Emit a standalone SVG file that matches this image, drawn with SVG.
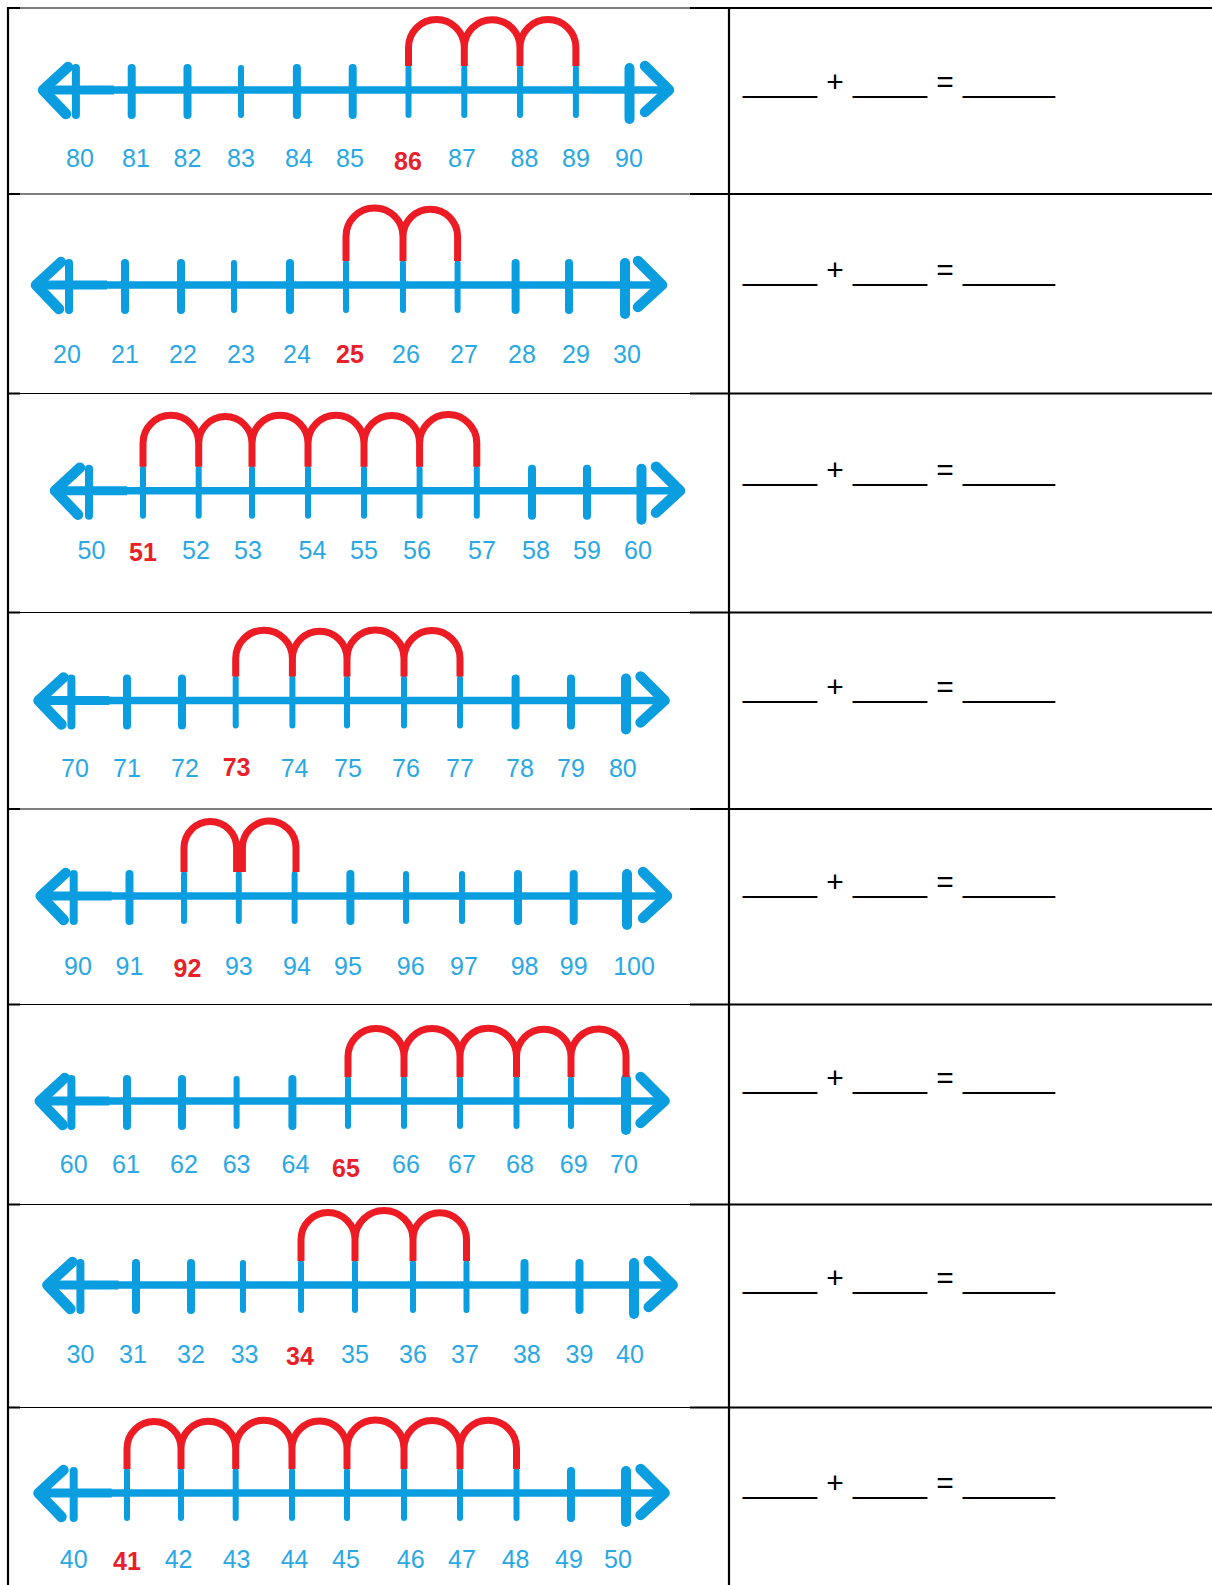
<svg xmlns="http://www.w3.org/2000/svg" width="1212" height="1585" viewBox="0 0 1212 1585">
<style>
.tb{stroke:#000;stroke-width:2.2;fill:none}
.tt{stroke:#000;stroke-width:1.2;fill:none}
.ax{stroke:#0a9de0;fill:none;stroke-linecap:round;stroke-linejoin:round}
.mn{stroke-width:7.5;stroke-linecap:butt}
.ms{stroke-width:9;stroke-linecap:butt}
.tk{stroke-width:8}
.tn{stroke-width:6}
.tl{stroke-width:10}
.hd{stroke-width:10.5}
.arc{stroke:#ed1c24;stroke-width:7;fill:none}
.lb{font-family:"Liberation Sans",Arial,sans-serif;font-size:25px;fill:#2aa8e3;text-anchor:middle}
.lr{font-weight:bold;fill:#e8202a}
.eq{font-family:"Liberation Sans",Arial,sans-serif;font-size:30px;fill:#000}
.op{text-anchor:middle}
</style>
<rect width="1212" height="1585" fill="#fff"/>
<g id="table">
<path class="tb" d="M8,7V1585M729,7V1585"/>
<path class="tb" d="M7,8H20M690,8H1212M7,194H20M690,194H1212M7,393.5H20M690,393.5H1212M7,612.5H20M690,612.5H1212M7,809H20M690,809H1212M7,1004.5H20M690,1004.5H1212M7,1204.5H20M690,1204.5H1212M7,1407.5H20M690,1407.5H1212"/>
<path class="tt" d="M20,8H690M20,194H690M20,393.5H690M20,612.5H690M20,809H690M20,1004.5H690M20,1204.5H690M20,1407.5H690"/>
</g>

<g id="nl1" transform="translate(0,90)">
<path class="ax mn" d="M43,0H669"/>
<path class="ax ms" d="M43,0H114"/>
<path class="ax hd" d="M68,-23L43,0L66,24M645,-24L669,0L645,22"/>
<path class="ax tk" d="M75.9,-22V25M131.7,-22V25M187.5,-22V25M296.9,-22V25M352.7,-22V25"/>
<path class="ax tn" d="M241,-22V25M408.5,-22V25M464.3,-22V25M520,-22V25M575.9,-22V25"/>
<path class="ax tl" d="M629.5,-22V29"/>
<path class="arc" d="M408.5,-24V-42.5A20,20 0 0 1 464.3,-42.5V-24M464.3,-24V-42.5A20,20 0 0 1 520,-42.5V-24M520,-24V-42.5A20,20 0 0 1 575.9,-42.5V-24"/>
<text class="lb" y="77"><tspan x="80">80</tspan><tspan x="136">81</tspan><tspan x="187.5">82</tspan><tspan x="241">83</tspan><tspan x="299">84</tspan><tspan x="350">85</tspan><tspan x="462">87</tspan><tspan x="524.5">88</tspan><tspan x="576">89</tspan><tspan x="629">90</tspan></text>
<text class="lb lr" x="408" y="80">86</text>
</g>

<g id="nl2" transform="translate(0,285)">
<path class="ax mn" d="M36,0H662"/>
<path class="ax ms" d="M36,0H107"/>
<path class="ax hd" d="M61,-23L36,0L59,24M638,-24L662,0L638,22"/>
<path class="ax tk" d="M69,-22V25M125,-22V25M181,-22V25M290,-22V25M515.6,-22V25M569,-22V25"/>
<path class="ax tn" d="M234,-22V25M346,-22V25M403,-22V25M457.6,-22V25"/>
<path class="ax tl" d="M625,-22V29"/>
<path class="arc" d="M346,-24V-48.5A20,20 0 0 1 403,-48.5V-24M403,-24V-48.5A20,20 0 0 1 457.6,-48.5V-24"/>
<text class="lb" y="78"><tspan x="67">20</tspan><tspan x="125">21</tspan><tspan x="183">22</tspan><tspan x="241">23</tspan><tspan x="297">24</tspan><tspan x="406">26</tspan><tspan x="464">27</tspan><tspan x="522">28</tspan><tspan x="576">29</tspan><tspan x="627">30</tspan></text>
<text class="lb lr" x="350" y="78">25</text>
</g>

<g id="nl3" transform="translate(0,490.7)">
<path class="ax mn" d="M55,0H680"/>
<path class="ax ms" d="M55,0H127"/>
<path class="ax hd" d="M80,-23L55,0L78,24M656,-24L680,0L656,22"/>
<path class="ax tk" d="M89,-22V25M532,-22V25M587,-22V25"/>
<path class="ax tn" d="M143,-22V25M198.7,-22V25M252,-22V25M308,-22V25M364,-22V25M419.6,-22V25M476.8,-22V25"/>
<path class="ax tl" d="M641.5,-22V29"/>
<path class="arc" d="M143,-24V-47.5A20,20 0 0 1 198.7,-47.5V-24M198.7,-24V-47.5A20,20 0 0 1 252,-47.5V-24M252,-24V-47.5A20,20 0 0 1 308,-47.5V-24M308,-24V-47.5A20,20 0 0 1 364,-47.5V-24M364,-24V-47.5A20,20 0 0 1 419.6,-47.5V-24M419.6,-24V-47.5A20,20 0 0 1 476.8,-47.5V-24"/>
<text class="lb" y="68"><tspan x="91.5">50</tspan><tspan x="196">52</tspan><tspan x="248">53</tspan><tspan x="312.5">54</tspan><tspan x="364">55</tspan><tspan x="417">56</tspan><tspan x="482">57</tspan><tspan x="536">58</tspan><tspan x="587">59</tspan><tspan x="638">60</tspan></text>
<text class="lb lr" x="143" y="70">51</text>
</g>

<g id="nl4" transform="translate(0,700.5)">
<path class="ax mn" d="M38.5,0H664.6"/>
<path class="ax ms" d="M38.5,0H109.4"/>
<path class="ax hd" d="M63.5,-23L38.5,0L61.5,24M640.6,-24L664.6,0L640.6,22"/>
<path class="ax tk" d="M71.4,-22V25M127,-22V25M182,-22V25M515.6,-22V25M571,-22V25"/>
<path class="ax tn" d="M235.7,-22V25M292.4,-22V25M347,-22V25M404,-22V25M460,-22V25"/>
<path class="ax tl" d="M626,-22V29"/>
<path class="arc" d="M235.7,-24V-42A20,20 0 0 1 292.4,-42V-24M292.4,-24V-42A20,20 0 0 1 347,-42V-24M347,-24V-42A20,20 0 0 1 404,-42V-24M404,-24V-42A20,20 0 0 1 460,-42V-24"/>
<text class="lb" y="76.5"><tspan x="75">70</tspan><tspan x="127">71</tspan><tspan x="185">72</tspan><tspan x="294.6">74</tspan><tspan x="348">75</tspan><tspan x="406">76</tspan><tspan x="460">77</tspan><tspan x="520">78</tspan><tspan x="571">79</tspan><tspan x="622.8">80</tspan></text>
<text class="lb lr" x="236.6" y="75">73</text>
</g>

<g id="nl5" transform="translate(0,896)">
<path class="ax mn" d="M40.7,0H667"/>
<path class="ax ms" d="M40.7,0H111.7"/>
<path class="ax hd" d="M65.7,-23L40.7,0L63.7,24M643,-24L667,0L643,22"/>
<path class="ax tk" d="M73.7,-22V25M129.5,-22V25M350.4,-22V25M518,-22V25M573.7,-22V25"/>
<path class="ax tn" d="M184,-22V25M238.8,-22V25M294.6,-22V25M406,-22V25M462,-22V25"/>
<path class="ax tl" d="M627,-22V29"/>
<path class="arc" d="M184,-24V-48.2A20,20 0 0 1 236.6,-48.2V-24M242.4,-24V-48.2A20,20 0 0 1 296,-48.2V-24"/>
<text class="lb" y="79"><tspan x="78">90</tspan><tspan x="129.5">91</tspan><tspan x="238.8">93</tspan><tspan x="297">94</tspan><tspan x="348">95</tspan><tspan x="410.7">96</tspan><tspan x="464">97</tspan><tspan x="524.6">98</tspan><tspan x="573.7">99</tspan><tspan x="634">100</tspan></text>
<text class="lb lr" x="187.5" y="81">92</text>
</g>

<g id="nl6" transform="translate(0,1101)">
<path class="ax mn" d="M39.8,0H664.6"/>
<path class="ax ms" d="M39.8,0H109.4"/>
<path class="ax hd" d="M64.8,-23L39.8,0L62.8,24M640.6,-24L664.6,0L640.6,22"/>
<path class="ax tk" d="M71.4,-22V25M127,-22V25M182,-22V25M292.4,-22V25"/>
<path class="ax tn" d="M236.6,-22V25M348,-22V25M404,-22V25M460,-22V25M516.5,-22V25M571,-22V25"/>
<path class="ax tl" d="M626,-22V29"/>
<path class="arc" d="M348,-24V-44.5A20,20 0 0 1 404,-44.5V-24M404,-24V-44.5A20,20 0 0 1 460,-44.5V-24M460,-24V-44.5A20,20 0 0 1 516.5,-44.5V-24M516.5,-24V-44.5A20,20 0 0 1 571,-44.5V-24M571,-24V-44.5A20,20 0 0 1 626,-44.5V-24"/>
<text class="lb" y="72"><tspan x="73.7">60</tspan><tspan x="126">61</tspan><tspan x="184">62</tspan><tspan x="236.6">63</tspan><tspan x="295.5">64</tspan><tspan x="406">66</tspan><tspan x="462">67</tspan><tspan x="520">68</tspan><tspan x="573.7">69</tspan><tspan x="624">70</tspan></text>
<text class="lb lr" x="346" y="76">65</text>
</g>

<g id="nl7" transform="translate(0,1285)">
<path class="ax mn" d="M47.4,0H672.7"/>
<path class="ax ms" d="M47.4,0H118.4"/>
<path class="ax hd" d="M72.4,-23L47.4,0L70.4,24M648.7,-24L672.7,0L648.7,22"/>
<path class="ax tk" d="M80.4,-22V25M136,-22V25M191,-22V25M524.5,-22V25M579.5,-22V25"/>
<path class="ax tn" d="M243,-22V25M301,-22V25M355,-22V25M413,-22V25M466.5,-22V25"/>
<path class="ax tl" d="M634,-22V29"/>
<path class="arc" d="M301,-24V-45.5A20,20 0 0 1 355,-45.5V-24M355,-24V-45.5A20,20 0 0 1 413,-45.5V-24M413,-24V-45.5A20,20 0 0 1 466.5,-45.5V-24"/>
<text class="lb" y="78"><tspan x="80.4">30</tspan><tspan x="133">31</tspan><tspan x="191">32</tspan><tspan x="244.6">33</tspan><tspan x="355">35</tspan><tspan x="413">36</tspan><tspan x="465">37</tspan><tspan x="526.8">38</tspan><tspan x="579.5">39</tspan><tspan x="630">40</tspan></text>
<text class="lb lr" x="300" y="80">34</text>
</g>

<g id="nl8" transform="translate(0,1493)">
<path class="ax mn" d="M38.5,0H664.6"/>
<path class="ax ms" d="M38.5,0H111.7"/>
<path class="ax hd" d="M63.5,-23L38.5,0L61.5,24M640.6,-24L664.6,0L640.6,22"/>
<path class="ax tk" d="M73.7,-22V25M571,-22V25"/>
<path class="ax tn" d="M127,-22V25M181,-22V25M235.7,-22V25M292,-22V25M347,-22V25M404,-22V25M460,-22V25M516.5,-22V25"/>
<path class="ax tl" d="M626,-22V29"/>
<path class="arc" d="M127,-24V-44.5A20,20 0 0 1 181,-44.5V-24M181,-24V-44.5A20,20 0 0 1 235.7,-44.5V-24M235.7,-24V-44.5A20,20 0 0 1 292,-44.5V-24M292,-24V-44.5A20,20 0 0 1 347,-44.5V-24M347,-24V-44.5A20,20 0 0 1 404,-44.5V-24M404,-24V-44.5A20,20 0 0 1 460,-44.5V-24M460,-24V-44.5A20,20 0 0 1 516.5,-44.5V-24"/>
<text class="lb" y="75"><tspan x="73.7">40</tspan><tspan x="178.6">42</tspan><tspan x="236.6">43</tspan><tspan x="294.6">44</tspan><tspan x="346">45</tspan><tspan x="410.7">46</tspan><tspan x="462">47</tspan><tspan x="515.6">48</tspan><tspan x="569">49</tspan><tspan x="618">50</tspan></text>
<text class="lb lr" x="127" y="77">41</text>
</g>

<g id="eq1" transform="translate(0,92)">
<text class="eq" x="743" textLength="74" lengthAdjust="spacingAndGlyphs">____</text><text class="eq op" x="835">+</text><text class="eq" x="853" textLength="74" lengthAdjust="spacingAndGlyphs">____</text><text class="eq op" x="945">=</text><text class="eq" x="963" textLength="92" lengthAdjust="spacingAndGlyphs">_____</text>
</g>
<g id="eq2" transform="translate(0,280)">
<text class="eq" x="743" textLength="74" lengthAdjust="spacingAndGlyphs">____</text><text class="eq op" x="835">+</text><text class="eq" x="853" textLength="74" lengthAdjust="spacingAndGlyphs">____</text><text class="eq op" x="945">=</text><text class="eq" x="963" textLength="92" lengthAdjust="spacingAndGlyphs">_____</text>
</g>
<g id="eq3" transform="translate(0,480)">
<text class="eq" x="743" textLength="74" lengthAdjust="spacingAndGlyphs">____</text><text class="eq op" x="835">+</text><text class="eq" x="853" textLength="74" lengthAdjust="spacingAndGlyphs">____</text><text class="eq op" x="945">=</text><text class="eq" x="963" textLength="92" lengthAdjust="spacingAndGlyphs">_____</text>
</g>
<g id="eq4" transform="translate(0,697)">
<text class="eq" x="743" textLength="74" lengthAdjust="spacingAndGlyphs">____</text><text class="eq op" x="835">+</text><text class="eq" x="853" textLength="74" lengthAdjust="spacingAndGlyphs">____</text><text class="eq op" x="945">=</text><text class="eq" x="963" textLength="92" lengthAdjust="spacingAndGlyphs">_____</text>
</g>
<g id="eq5" transform="translate(0,892)">
<text class="eq" x="743" textLength="74" lengthAdjust="spacingAndGlyphs">____</text><text class="eq op" x="835">+</text><text class="eq" x="853" textLength="74" lengthAdjust="spacingAndGlyphs">____</text><text class="eq op" x="945">=</text><text class="eq" x="963" textLength="92" lengthAdjust="spacingAndGlyphs">_____</text>
</g>
<g id="eq6" transform="translate(0,1088)">
<text class="eq" x="743" textLength="74" lengthAdjust="spacingAndGlyphs">____</text><text class="eq op" x="835">+</text><text class="eq" x="853" textLength="74" lengthAdjust="spacingAndGlyphs">____</text><text class="eq op" x="945">=</text><text class="eq" x="963" textLength="92" lengthAdjust="spacingAndGlyphs">_____</text>
</g>
<g id="eq7" transform="translate(0,1288)">
<text class="eq" x="743" textLength="74" lengthAdjust="spacingAndGlyphs">____</text><text class="eq op" x="835">+</text><text class="eq" x="853" textLength="74" lengthAdjust="spacingAndGlyphs">____</text><text class="eq op" x="945">=</text><text class="eq" x="963" textLength="92" lengthAdjust="spacingAndGlyphs">_____</text>
</g>
<g id="eq8" transform="translate(0,1493)">
<text class="eq" x="743" textLength="74" lengthAdjust="spacingAndGlyphs">____</text><text class="eq op" x="835">+</text><text class="eq" x="853" textLength="74" lengthAdjust="spacingAndGlyphs">____</text><text class="eq op" x="945">=</text><text class="eq" x="963" textLength="92" lengthAdjust="spacingAndGlyphs">_____</text>
</g>
</svg>
